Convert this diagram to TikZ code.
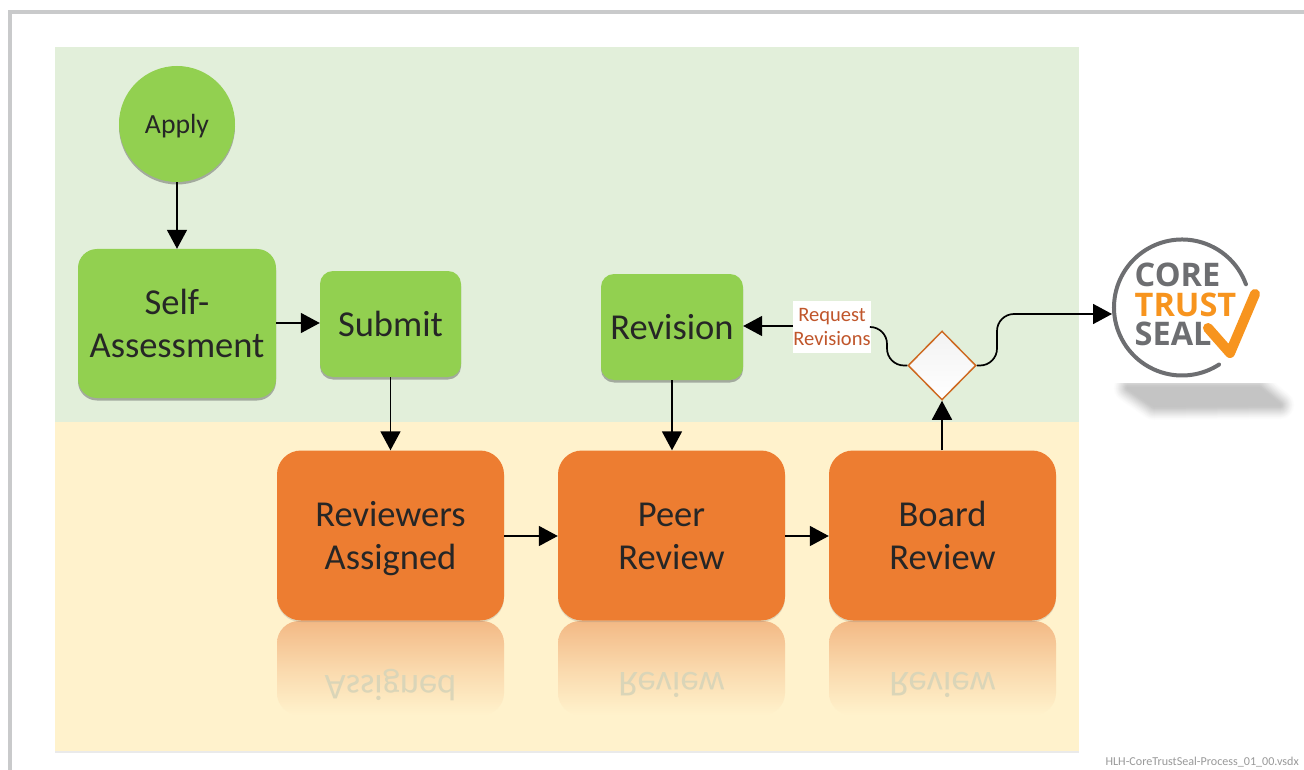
\documentclass[tikz,border=0pt]{standalone}
\usepackage{fontspec}
\setmainfont{Carlito}
\newfontfamily\logofont{Open Sans}
\usetikzlibrary{arrows.meta,shapes.geometric,shadows,calc}
\definecolor{bandgreen}{HTML}{E2EFDA}
\definecolor{bandyellow}{HTML}{FFF2CC}
\definecolor{boxgreen}{HTML}{92D050}
\definecolor{boxorange}{HTML}{ED7D31}
\definecolor{diaedge}{HTML}{CE6A22}
\definecolor{labeltext}{HTML}{C0562B}
\definecolor{framegrey}{HTML}{C9CACB}
\definecolor{logogrey}{HTML}{6D6E71}
\definecolor{logoorange}{HTML}{F7941E}
\definecolor{reflecttop}{HTML}{F3B985}
\definecolor{reflecttext}{HTML}{DAD5B8}
\newcommand{\bigtop}{\rule{0pt}{37pt}}
\newcommand{\bigbot}{\rule[-12.9pt]{0pt}{0pt}}
\tikzset{
  softshadow/.style={drop shadow={shadow xshift=0pt,shadow yshift=-2.5pt,opacity=.42,fill=black!70}},
  faintshadow/.style={drop shadow={shadow xshift=0pt,shadow yshift=-1.5pt,opacity=.25,fill=black!50}},
  greenbox/.style={fill=boxgreen,rounded corners=13pt,inner sep=0pt,align=center,text=black!85,softshadow,
     font=\fontsize{36.5}{43}\selectfont},
  orangebox/.style={fill=boxorange,rounded corners=24pt,inner sep=0pt,align=center,text=black!85,faintshadow,
     minimum width=227pt,minimum height=170pt,font=\fontsize{36.5}{43}\selectfont},
  reflectbox/.style={top color=reflecttop,bottom color=bandyellow,middle color=reflecttop!45!bandyellow,rounded corners=22pt,
     minimum width=227pt,minimum height=94pt,inner sep=0pt},
  reflecttextnode/.style={text=reflecttext,yscale=-1,inner sep=0pt,font=\fontsize{36.5}{43}\selectfont},
  conn/.style={draw=black,line width=1.7pt,-{Triangle[length=19pt,width=20pt]}},
  plainconn/.style={draw=black,line width=1.7pt,rounded corners=17pt},
  logotext/.style={inner sep=0pt,text height=23pt,text depth=0pt,font=\logofont\bfseries\fontsize{32.5}{33}\selectfont,anchor=base west},
}
\begin{document}
\begin{tikzpicture}[x=1pt,y=-1pt]
\useasboundingbox (0,0) rectangle (1304,770);
\fill[white] (0,0) rectangle (1304,770);
% frame
\draw[framegrey,line width=4pt] (10,770) -- (10,12) -- (1304,12);
% bands
\fill[bandgreen] (55,47) rectangle (1079,422);
\fill[bandyellow,drop shadow={shadow xshift=0pt,shadow yshift=-1.5pt,opacity=.2,fill=black!40}] (55,422) rectangle (1079,751);
% logo shadow
\begin{scope}
  \clip (1100,383) rectangle (1304,440);
  \foreach \w/\k in {28/1,26/2,24/4,22/5,20/7,18/9,16/11,14/13,12/15,10/17,8/19,6/21,4/22,2/23}{
    \draw[black!\k,fill=black!\k,line width=\w pt,line join=round]
       (1128,388) -- (1259,388) -- (1280,405) -- (1154,406) -- cycle;
  }
\end{scope}
% reflections
\node[reflectbox] (rfa) at (390.5,668) {};
\node[reflectbox] (rfb) at (671.5,668) {};
\node[reflectbox] (rfc) at (942.5,668) {};
\node[reflecttextnode] (rta) at (390.5,685) {Assigned};
\node[reflecttextnode] (rtb) at (671.5,685) {Review};
\node[reflecttextnode] (rtc) at (942.5,685) {Review};
% nodes
\node[circle,fill=boxgreen,minimum size=116pt,inner sep=0pt,text=black!85,softshadow,font=\fontsize{27.7}{33}\selectfont] (apply) at (177,124) {\rule{0pt}{29pt}\rule[-9.9pt]{0pt}{0pt}Apply};
\node[greenbox,rounded corners=19pt,minimum width=198pt,minimum height=149pt] (self) at (177,323.5) {\bigtop Self-\\\bigbot Assessment};
\node[greenbox,minimum width=141pt,minimum height=106pt] (submit) at (390.5,324) {\bigtop\bigbot Submit};
\node[greenbox,minimum width=142pt,minimum height=106pt] (revision) at (672,327) {\bigtop\bigbot Revision};
\node[orangebox] (rev) at (390.5,535.5) {\bigtop Reviewers\\\bigbot Assigned};
\node[orangebox] (peer) at (671.5,535.5) {\bigtop Peer\\\bigbot Review};
\node[orangebox] (board) at (942.5,535.5) {\bigtop Board\\\bigbot Review};
\node[diamond,aspect=1,draw=diaedge,line width=1.5pt,top color=black!5!white,bottom color=white,minimum width=68pt,minimum height=69pt,inner sep=0pt] (dec) at (942,365.5) {};
\node[fill=white,inner sep=0pt,minimum width=76pt,minimum height=47pt,align=center,text=labeltext,font=\fontsize{20.5}{24}\selectfont] (req) at (832,326.5) {\rule{0pt}{20.8pt}Request\\\rule[-7.2pt]{0pt}{0pt}Revisions};
% logo
\coordinate (logoentry) at (1112,314);
\draw[logogrey,line width=4pt,line cap=round] ($(1182,307.5)+(-20:68)$) arc[start angle=-20,end angle=-303,radius=68];
\node[logotext,text=logogrey] (lcore) at (1134.5,287) {CORE};
\node[logotext,text=logoorange] (ltrust) at (1134.5,316.5) {TRUST};
\node[logotext,text=logogrey] (lseal) at (1134.5,345.5) {SEAL};
\draw[logoorange,line width=10pt,line cap=round,line join=round] (1208,328) -- (1230,353) -- (1255,294);
% connectors
\draw[conn] (apply) -- (self.north);
\draw[conn] (self.east |- 0,323) -- (submit.west |- 0,323);
\draw[conn] (submit) -- (rev.north -| submit);
\draw[conn] (revision) -- (peer.north -| revision);
\draw[conn] (rev.east |- 0,536) -- (peer.west |- 0,536);
\draw[conn] (peer.east |- 0,536) -- (board.west |- 0,536);
\draw[conn] (board.north -| dec) -- (dec.south);
\draw[conn] (req.west |- 0,326) -- (revision.east |- 0,326);
\draw[conn,rounded corners=17pt] (dec.east) -- (997,365.5) -- (997,314) -- (logoentry);
\draw[plainconn] (dec.west) -- (887,365.5) -- (887,327) -- (req.east |- 0,327);
% footer
\node[anchor=east,inner sep=0pt,text=black!40,font=\fontsize{12.1}{13}\selectfont] (foot) at (1299,762) {HLH-CoreTrustSeal-Process\_01\_00.vsdx};
\end{tikzpicture}
\end{document}
